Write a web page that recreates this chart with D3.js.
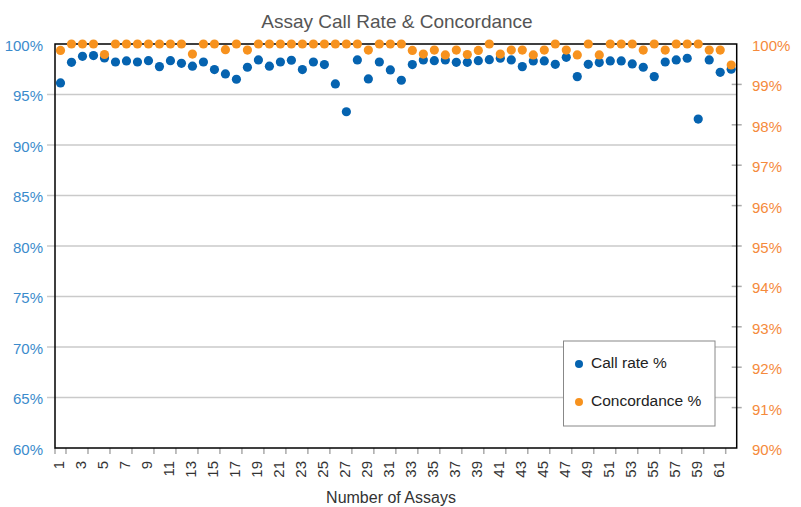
<!DOCTYPE html>
<html>
<head>
<meta charset="utf-8">
<script src="https://cdn.jsdelivr.net/npm/d3@7"></script>
<style>
  body { margin: 0; background: #fff; }
  svg { display: block; font-family: "Liberation Sans", Arial, sans-serif; }
</style>
</head>
<body>
<div id="chart"></div>
<script>
// assay numbers 1..62
const assays = d3.range(1, 63);

// call rate % (left axis)
const callRate = [
  96.15, 98.19, 98.78, 98.85, 98.62, 98.22, 98.32, 98.22, 98.35, 97.76,
  98.35, 98.09, 97.80, 98.22, 97.47, 97.04, 96.51, 97.70, 98.42, 97.80,
  98.22, 98.39, 97.47, 98.22, 97.96, 96.05, 93.29, 98.42, 96.54, 98.22,
  97.43, 96.41, 97.96, 98.42, 98.35, 98.42, 98.19, 98.19, 98.35, 98.45,
  98.59, 98.42, 97.76, 98.32, 98.32, 97.99, 98.68, 96.77, 97.99, 98.16,
  98.32, 98.32, 98.03, 97.70, 96.77, 98.22, 98.42, 98.59, 92.57, 98.42,
  97.20, 97.50
];

// concordance % (right axis)
const concordance = [
  99.84, 100, 100, 100, 99.74, 100, 100, 100, 100, 100,
  100, 100, 99.75, 100, 100, 99.86, 100, 99.85, 100, 100,
  100, 100, 100, 100, 100, 100, 100, 100, 99.85, 100,
  100, 100, 99.84, 99.75, 99.85, 99.73, 99.85, 99.74, 99.84, 100,
  99.75, 99.85, 99.85, 99.73, 99.85, 100, 99.85, 99.73, 100, 99.73,
  100, 100, 100, 99.85, 100, 99.85, 100, 100, 100, 99.85,
  99.85, 99.48
];

const leftTicks = [60, 65, 70, 75, 80, 85, 90, 95, 100];
const rightTicks = [90, 91, 92, 93, 94, 95, 96, 97, 98, 99, 100];

const W = 801, H = 507;
const m = { left: 55, right: 736.7, top: 44, bottom: 448 };
const blue = "#0563b0", orange = "#f7921e";

const svg = d3.select("#chart").append("svg")
  .attr("width", W).attr("height", H);

const x = d3.scaleBand().domain(assays).range([m.left, m.right]).padding(0);
const yL = d3.scaleLinear().domain([60, 100]).range([m.bottom, m.top]);
const yR = d3.scaleLinear().domain([90, 100]).range([m.bottom, m.top]);
const cx = d => x(d) + x.bandwidth() / 2;

// title
svg.append("text")
  .attr("x", 397).attr("y", 28)
  .attr("text-anchor", "middle")
  .attr("font-size", 19).attr("fill", "#555")
  .text("Assay Call Rate & Concordance");

// gridlines (extend left as ticks)
svg.append("g").selectAll("line")
  .data(leftTicks.filter(t => t > 60 && t < 100))
  .join("line")
  .attr("x1", 47).attr("x2", m.right)
  .attr("y1", d => yL(d)).attr("y2", d => yL(d))
  .attr("stroke", "#cacaca").attr("stroke-width", 1.5);

// left labels
svg.append("g").selectAll("text")
  .data(leftTicks).join("text")
  .attr("x", 43).attr("y", d => yL(d) + 3)
  .attr("text-anchor", "end").attr("dominant-baseline", "middle")
  .attr("font-size", 15).attr("fill", "#3b8bcc")
  .text(d => d + "%");

// right ticks + labels
svg.append("g").selectAll("line")
  .data(rightTicks.filter(t => t > 90 && t < 100)).join("line")
  .attr("x1", m.right - 5).attr("x2", m.right + 5)
  .attr("y1", d => yR(d)).attr("y2", d => yR(d))
  .attr("stroke", "#aaa").attr("stroke-width", 1.5);

svg.append("g").selectAll("text")
  .data(rightTicks).join("text")
  .attr("x", 752).attr("y", d => yR(d) + 3)
  .attr("dominant-baseline", "middle")
  .attr("font-size", 15).attr("fill", "#f58a3c")
  .text(d => d + "%");

// x ticks at every other band boundary
const bounds = [0].concat(assays.filter(d => d % 2 === 1));
svg.append("g").selectAll("line")
  .data(bounds).join("line")
  .attr("x1", d => m.left + d * x.bandwidth())
  .attr("x2", d => m.left + d * x.bandwidth())
  .attr("y1", m.bottom).attr("y2", m.bottom + 6)
  .attr("stroke", "#aaa").attr("stroke-width", 1.5);

// x labels (odd assays), rotated
svg.append("g").selectAll("text")
  .data(assays.filter(d => d % 2 === 1)).join("text")
  .attr("transform", d => `translate(${cx(d)},${m.bottom + 13}) rotate(-90)`)
  .attr("text-anchor", "end").attr("dominant-baseline", "middle")
  .attr("font-size", 15).attr("fill", "#333")
  .text(d => d);

svg.append("text")
  .attr("x", 391).attr("y", 503)
  .attr("text-anchor", "middle")
  .attr("font-size", 16).attr("fill", "#333")
  .text("Number of Assays");

// plot border
svg.append("rect")
  .attr("x", m.left).attr("y", m.top)
  .attr("width", m.right - m.left).attr("height", m.bottom - m.top)
  .attr("fill", "none").attr("stroke", "#000").attr("stroke-width", 1.5);

// call rate points
svg.append("g").selectAll("circle")
  .data(assays).join("circle")
  .attr("cx", d => cx(d)).attr("cy", (d, i) => yL(callRate[i]))
  .attr("r", 4.6).attr("fill", blue);

// concordance points
svg.append("g").selectAll("circle")
  .data(assays).join("circle")
  .attr("cx", d => cx(d)).attr("cy", (d, i) => yR(concordance[i]))
  .attr("r", 4.6).attr("fill", orange);

// legend
const lg = svg.append("g");
lg.append("rect")
  .attr("x", 563.5).attr("y", 341)
  .attr("width", 151.5).attr("height", 85)
  .attr("fill", "#fff").attr("stroke", "#888").attr("stroke-width", 1);
const items = [["Call rate %", blue, 364], ["Concordance %", orange, 402]];
items.forEach(([label, col, yy]) => {
  lg.append("circle").attr("cx", 579).attr("cy", yy).attr("r", 4).attr("fill", col);
  lg.append("text").attr("x", 591).attr("y", yy)
    .attr("dominant-baseline", "middle")
    .attr("font-size", 15.5).attr("fill", "#222")
    .text(label);
});
</script>
</body>
</html>
